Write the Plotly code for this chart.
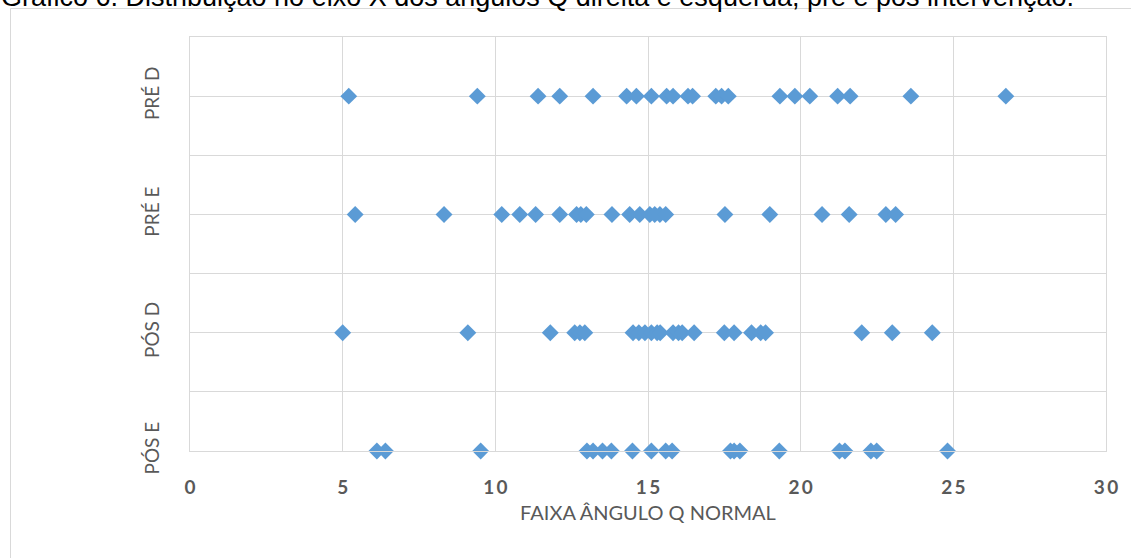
import plotly.graph_objects as go

# Category labels on the vertical axis (bottom to top)
categories = ["PÓS E", "PÓS D", "PRÉ E", "PRÉ D"]

# Q-angle values (degrees) for each group
pre_d = [5.20, 9.41, 11.40, 12.11, 13.20, 14.30, 14.62, 15.11, 15.61, 15.82, 16.31,
         16.46, 17.22, 17.41, 17.63, 19.32, 19.81, 20.30, 21.21, 21.62, 23.61, 26.72]
pre_e = [5.41, 8.32, 10.21, 10.80, 11.32, 12.11, 12.66, 12.80, 12.98, 13.82, 14.40,
         14.73, 15.06, 15.22, 15.39, 15.58, 17.52, 18.99, 20.70, 21.59, 22.79, 23.11]
pos_d = [5.00, 9.10, 11.80, 12.60, 12.77, 12.93, 14.51, 14.70, 14.90, 15.11, 15.30,
         15.40, 15.82, 16.00, 16.12, 16.51, 17.50, 17.82, 18.39, 18.69, 18.85, 22.00,
         23.00, 24.31]
pos_e = [6.12, 6.40, 9.52, 13.00, 13.20, 13.51, 13.80, 14.49, 15.11, 15.58, 15.79,
         17.70, 17.82, 18.01, 19.30, 21.27, 21.45, 22.30, 22.49, 24.81]

x_ticks = [0, 5, 10, 15, 20, 25, 30]

series = [pos_e, pos_d, pre_e, pre_d]
xs, ys = [], []
for idx, vals in enumerate(series):
    xs.extend(vals)
    ys.extend([idx] * len(vals))

GRID = "#d9d9d9"
TEXT = "#595959"

fig = go.Figure()
fig.add_trace(go.Scatter(
    x=xs, y=ys, mode="markers",
    marker=dict(symbol="diamond", size=13, color="#5b9bd5", line=dict(width=0)),
    cliponaxis=False, showlegend=False, hoverinfo="x+y",
))

# Outer frame of the chart area (left and top edges)
L, R, T, B = 190, 25, 37, 107
W, H = 1131, 558
pw, ph = W - L - R, H - T - B
def px(xp):
    return (xp - L) / pw
def py(yp):
    return (H - B - yp) / ph
frame = f"M {px(10.5)},{py(560)} L {px(10.5)},{py(8.5)} L {px(1135)},{py(8.5)}"

# Tick labels with a little space between the digits
spaced = ["\u2009".join(str(v)) for v in x_ticks]

fig.update_layout(
    width=W, height=H,
    margin=dict(l=L, r=R, t=T, b=B),
    paper_bgcolor="white", plot_bgcolor="white",
    xaxis=dict(
        range=[0, 30], tickvals=x_ticks, ticktext=spaced,
        showgrid=True, gridcolor=GRID, gridwidth=1,
        showline=True, linecolor=GRID, linewidth=1, mirror=True,
        zeroline=False, ticks="",
        tickfont=dict(family="Lato", size=19, color=TEXT, weight="bold"),
        ticklabelstandoff=19,
        title=dict(text="FAIXA ÂNGULO Q NORMAL",
                   font=dict(family="Lato", size=20, color=TEXT), standoff=9),
    ),
    yaxis=dict(
        range=[0, 3.5], tickvals=[0, 1, 2, 3], ticktext=categories,
        tickangle=-90,
        showgrid=True, gridcolor=GRID, gridwidth=1,
        minor=dict(tickvals=[0.5, 1.5, 2.5, 3.5], showgrid=True, gridcolor=GRID, gridwidth=1),
        showline=True, linecolor=GRID, linewidth=1, mirror=True,
        zeroline=False, ticks="",
        tickfont=dict(family="Lato", size=19, color=TEXT),
        ticklabelstandoff=22,
    ),
    shapes=[dict(type="path", path=frame, xref="paper", yref="paper",
                 line=dict(color=GRID, width=1), layer="below")],
    annotations=[dict(
        text="Gráfico 6. Distribuição no eixo X dos ângulos Q direita e esquerda, pré e pós intervenção.",
        font=dict(family="Liberation Sans, Arial", size=27, color="black"),
        xref="paper", yref="paper", x=px(-1), y=py(-3),
        xanchor="left", yanchor="middle", showarrow=False,
    )],
)

fig.write_html("out.html")
